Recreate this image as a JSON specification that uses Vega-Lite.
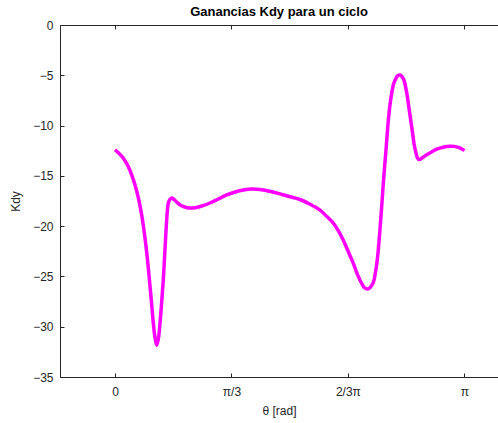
{
  "$schema": "https://vega.github.io/schema/vega-lite/v6.json",
  "autosize": {"type": "none"},
  "padding": {"left": 60, "top": 25, "right": 0, "bottom": 46},
  "width": 438,
  "height": 352,
  "background": "white",
  "title": {
    "text": "Ganancias Kdy para un ciclo",
    "font": "Liberation Sans",
    "fontSize": 13,
    "fontWeight": "bold",
    "color": "#000000",
    "offset": 0
  },
  "config": {
    "view": {"stroke": null},
    "axis": {
      "labelFont": "Liberation Sans",
      "labelFontSize": 12,
      "labelColor": "#262626",
      "titleFont": "Liberation Sans",
      "titleFontSize": 12,
      "titleFontWeight": "normal",
      "titleColor": "#262626",
      "domainColor": "#262626",
      "tickColor": "#262626",
      "domainWidth": 1,
      "tickWidth": 1,
      "tickSize": -4,
      "grid": false
    }
  },
  "data": {
    "values": [
      {"theta": 0.0, "kdy": -12.4},
      {"theta": 0.03, "kdy": -12.7},
      {"theta": 0.06, "kdy": -13.05},
      {"theta": 0.09, "kdy": -13.5},
      {"theta": 0.12, "kdy": -14.1},
      {"theta": 0.15, "kdy": -14.9},
      {"theta": 0.18, "kdy": -15.9},
      {"theta": 0.21, "kdy": -17.2},
      {"theta": 0.24, "kdy": -18.9},
      {"theta": 0.27, "kdy": -21.2},
      {"theta": 0.29, "kdy": -23.1},
      {"theta": 0.31, "kdy": -25.4},
      {"theta": 0.33, "kdy": -27.8},
      {"theta": 0.345, "kdy": -29.7},
      {"theta": 0.36, "kdy": -31.1},
      {"theta": 0.375, "kdy": -31.85},
      {"theta": 0.39, "kdy": -31.2},
      {"theta": 0.405, "kdy": -29.6},
      {"theta": 0.42, "kdy": -27.5},
      {"theta": 0.435, "kdy": -25.2},
      {"theta": 0.447, "kdy": -22.8},
      {"theta": 0.459, "kdy": -20.4},
      {"theta": 0.47, "kdy": -18.6},
      {"theta": 0.482, "kdy": -17.6},
      {"theta": 0.51, "kdy": -17.2},
      {"theta": 0.545, "kdy": -17.5},
      {"theta": 0.585, "kdy": -17.9},
      {"theta": 0.64, "kdy": -18.15},
      {"theta": 0.704, "kdy": -18.2},
      {"theta": 0.78, "kdy": -18.0},
      {"theta": 0.854, "kdy": -17.7},
      {"theta": 0.93, "kdy": -17.3},
      {"theta": 1.004, "kdy": -16.9},
      {"theta": 1.08, "kdy": -16.6},
      {"theta": 1.154, "kdy": -16.4},
      {"theta": 1.232, "kdy": -16.3},
      {"theta": 1.304, "kdy": -16.35},
      {"theta": 1.4, "kdy": -16.55},
      {"theta": 1.5, "kdy": -16.85},
      {"theta": 1.6, "kdy": -17.15},
      {"theta": 1.664, "kdy": -17.35},
      {"theta": 1.75, "kdy": -17.8},
      {"theta": 1.844, "kdy": -18.4},
      {"theta": 1.9, "kdy": -19.0},
      {"theta": 1.963, "kdy": -19.7},
      {"theta": 2.01, "kdy": -20.5},
      {"theta": 2.053, "kdy": -21.4},
      {"theta": 2.1, "kdy": -22.6},
      {"theta": 2.143, "kdy": -23.7},
      {"theta": 2.18, "kdy": -24.8},
      {"theta": 2.218, "kdy": -25.7},
      {"theta": 2.245, "kdy": -26.15},
      {"theta": 2.269, "kdy": -26.25},
      {"theta": 2.295, "kdy": -26.1},
      {"theta": 2.323, "kdy": -25.6},
      {"theta": 2.342, "kdy": -24.6},
      {"theta": 2.359, "kdy": -23.3},
      {"theta": 2.375, "kdy": -21.4},
      {"theta": 2.389, "kdy": -19.4},
      {"theta": 2.401, "kdy": -17.6},
      {"theta": 2.413, "kdy": -15.7},
      {"theta": 2.425, "kdy": -14.0},
      {"theta": 2.437, "kdy": -12.4},
      {"theta": 2.448, "kdy": -10.8},
      {"theta": 2.458, "kdy": -9.45},
      {"theta": 2.472, "kdy": -8.0},
      {"theta": 2.488, "kdy": -6.8},
      {"theta": 2.507, "kdy": -5.8},
      {"theta": 2.527, "kdy": -5.3},
      {"theta": 2.545, "kdy": -5.02},
      {"theta": 2.563, "kdy": -4.97},
      {"theta": 2.582, "kdy": -5.15},
      {"theta": 2.599, "kdy": -5.5},
      {"theta": 2.614, "kdy": -6.2},
      {"theta": 2.629, "kdy": -7.1},
      {"theta": 2.644, "kdy": -8.3},
      {"theta": 2.659, "kdy": -9.45},
      {"theta": 2.674, "kdy": -10.6},
      {"theta": 2.689, "kdy": -11.8},
      {"theta": 2.704, "kdy": -12.6},
      {"theta": 2.719, "kdy": -13.2},
      {"theta": 2.732, "kdy": -13.38},
      {"theta": 2.743, "kdy": -13.36},
      {"theta": 2.77, "kdy": -13.15},
      {"theta": 2.803, "kdy": -12.9},
      {"theta": 2.85, "kdy": -12.6},
      {"theta": 2.893, "kdy": -12.35},
      {"theta": 2.95, "kdy": -12.15},
      {"theta": 3.013, "kdy": -12.05},
      {"theta": 3.05, "kdy": -12.07},
      {"theta": 3.088, "kdy": -12.17},
      {"theta": 3.12, "kdy": -12.33},
      {"theta": 3.1416, "kdy": -12.5}
    ]
  },
  "layer": [
    {
      "mark": {"type": "line", "color": "#FF00FF", "strokeWidth": 3.5, "interpolate": "catmull-rom", "clip": true},
      "encoding": {
        "x": {
          "field": "theta",
          "type": "quantitative",
          "scale": {"domain": [-0.4946, 3.444], "nice": false, "zero": false},
          "axis": {
            "orient": "bottom",
            "title": "θ [rad]",
            "titlePadding": 8,
            "labelPadding": 13,
            "values": [0, 1.0471976, 2.0943951, 3.1415927],
            "labelExpr": "datum.value < 0.5 ? '0' : datum.value < 1.5 ? 'π/3' : datum.value < 2.5 ? '2/3π' : 'π'"
          }
        },
        "y": {
          "field": "kdy",
          "type": "quantitative",
          "scale": {"domain": [-35, 0], "nice": false, "zero": false},
          "axis": {
            "title": "Kdy",
            "titlePadding": 10,
            "labelPadding": 11,
            "values": [0, -5, -10, -15, -20, -25, -30, -35]
          }
        }
      }
    },
    {
      "mark": {"type": "line", "opacity": 0},
      "encoding": {
        "x": {
          "field": "theta",
          "type": "quantitative",
          "axis": {
            "orient": "top",
            "title": null,
            "labels": false,
            "values": [0, 1.0471976, 2.0943951, 3.1415927]
          }
        },
        "y": {"field": "kdy", "type": "quantitative"}
      }
    }
  ],
  "resolve": {"axis": {"x": "independent"}}
}
